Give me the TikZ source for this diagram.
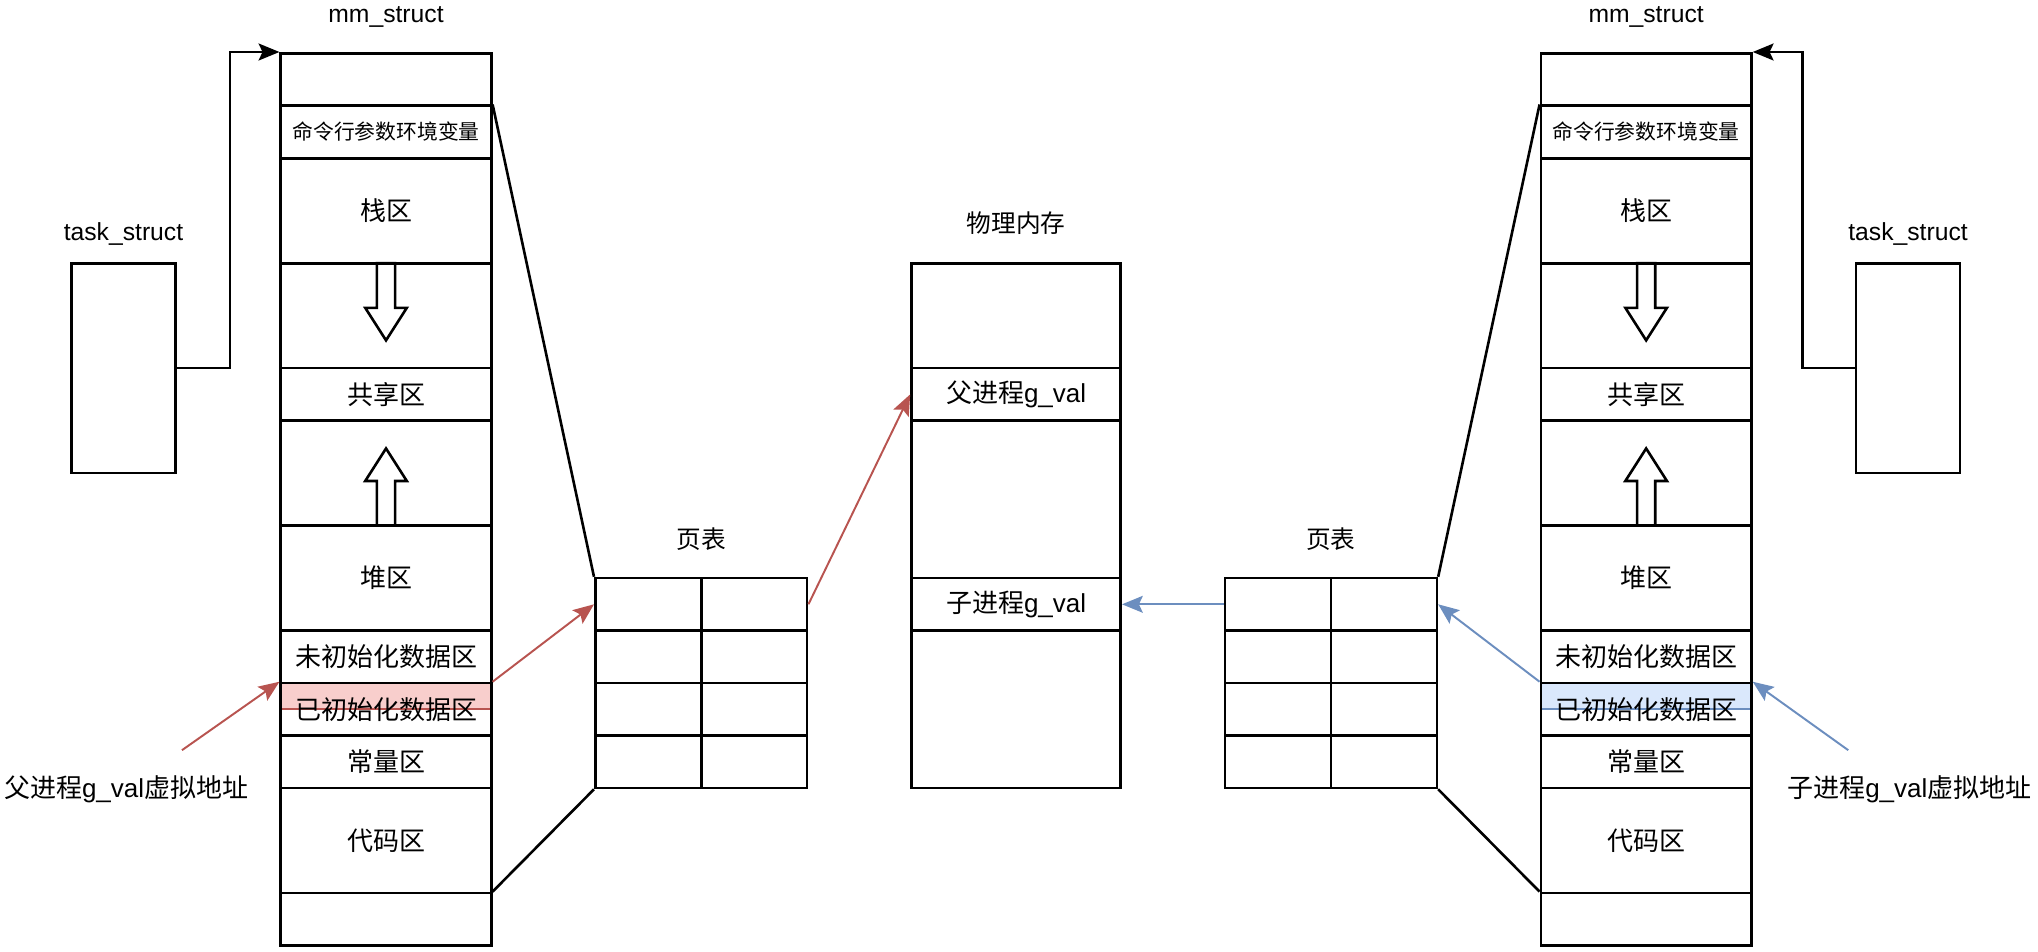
\documentclass[tikz,border=0pt]{standalone}
\usepackage{fontspec}
\setmainfont{Liberation Sans}
\newfontfamily\cjk{Noto Sans CJK SC}
\usetikzlibrary{arrows.meta}
\definecolor{redline}{HTML}{B85450}
\definecolor{redfill}{HTML}{F8CECC}
\definecolor{blueline}{HTML}{6C8EBF}
\definecolor{bluefill}{HTML}{DAE8FC}

\begin{document}
\begin{tikzpicture}[x=1pt, y=-40.375pt, line width=2pt, font=\fontsize{20}{24}\selectfont\cjk]
\useasboundingbox (0,-1.0155) rectangle (1568,17.1146);
\tikzset{seg/.style={draw, minimum width=162pt, minimum height=40.375pt, inner sep=0pt, align=center}}
\tikzset{bigseg/.style={seg, minimum height=80.75pt}}
\tikzset{cell/.style={draw, minimum width=81.5pt, minimum height=40.375pt, inner sep=0pt}}
\tikzset{lbl/.style={font=\fontsize{19}{22}\selectfont\cjk}}
\tikzset{structname/.style={font=\fontsize{19}{22}\selectfont\rmfamily}}
\tikzset{hilite/.style={minimum width=162pt, minimum height=20.19pt, inner sep=0pt, line width=1.5pt}}
\tikzset{>={Stealth[length=16pt, width=13pt, inset=3pt]}}
\node[hilite, draw=redline, fill=redfill] (hlL) at (297,12.25) {};
\node[hilite, draw=blueline, fill=bluefill] (hlR) at (1266.5,12.25) {};
\node[seg] (mmL1) at (297,0.5) {};
\node[seg, font=\fontsize{16}{19}\selectfont\cjk] (mmL2) at (297,1.5) {命令行参数环境变量};
\node[bigseg] (mmL3) at (297,3) {栈区};
\node[bigseg] (mmL4) at (297,5) {};
\node[seg] (mmL5) at (297,6.5) {共享区};
\node[bigseg] (mmL6) at (297,8) {};
\node[bigseg] (mmL7) at (297,10) {堆区};
\node[seg] (mmL8) at (297,11.5) {未初始化数据区};
\node[seg] (mmL9) at (297,12.5) {已初始化数据区};
\node[seg] (mmL10) at (297,13.5) {常量区};
\node[bigseg] (mmL11) at (297,15) {代码区};
\node[seg] (mmL12) at (297,16.5) {};
\node[seg] (mmR1) at (1266.5,0.5) {};
\node[seg, font=\fontsize{16}{19}\selectfont\cjk] (mmR2) at (1266.5,1.5) {命令行参数环境变量};
\node[bigseg] (mmR3) at (1266.5,3) {栈区};
\node[bigseg] (mmR4) at (1266.5,5) {};
\node[seg] (mmR5) at (1266.5,6.5) {共享区};
\node[bigseg] (mmR6) at (1266.5,8) {};
\node[bigseg] (mmR7) at (1266.5,10) {堆区};
\node[seg] (mmR8) at (1266.5,11.5) {未初始化数据区};
\node[seg] (mmR9) at (1266.5,12.5) {已初始化数据区};
\node[seg] (mmR10) at (1266.5,13.5) {常量区};
\node[bigseg] (mmR11) at (1266.5,15) {代码区};
\node[seg] (mmR12) at (1266.5,16.5) {};
\draw (290,4) -- (304,4) -- (304,4.85) -- (313,4.85) -- (297,5.47) -- (281,4.85) -- (290,4.85) -- cycle;
\draw (290,9) -- (304,9) -- (304,8.15) -- (313,8.15) -- (297,7.53) -- (281,8.15) -- (290,8.15) -- cycle;
\draw (1259.5,4) -- (1273.5,4) -- (1273.5,4.85) -- (1282.5,4.85) -- (1266.5,5.47) -- (1250.5,4.85) -- (1259.5,4.85) -- cycle;
\draw (1259.5,9) -- (1273.5,9) -- (1273.5,8.15) -- (1282.5,8.15) -- (1266.5,7.53) -- (1250.5,8.15) -- (1259.5,8.15) -- cycle;
\node[cell] (pL1a) at (498.75,10.5) {};
\node[cell] (pL1b) at (580.25,10.5) {};
\node[cell] (pL2a) at (498.75,11.5) {};
\node[cell] (pL2b) at (580.25,11.5) {};
\node[cell] (pL3a) at (498.75,12.5) {};
\node[cell] (pL3b) at (580.25,12.5) {};
\node[cell] (pL4a) at (498.75,13.5) {};
\node[cell] (pL4b) at (580.25,13.5) {};
\node[cell] (pR1a) at (983.25,10.5) {};
\node[cell] (pR1b) at (1064.75,10.5) {};
\node[cell] (pR2a) at (983.25,11.5) {};
\node[cell] (pR2b) at (1064.75,11.5) {};
\node[cell] (pR3a) at (983.25,12.5) {};
\node[cell] (pR3b) at (1064.75,12.5) {};
\node[cell] (pR4a) at (983.25,13.5) {};
\node[cell] (pR4b) at (1064.75,13.5) {};
\node[seg, minimum width=161pt, minimum height=80.75pt] (phy1) at (781.75,5) {};
\node[seg, minimum width=161pt] (phy2) at (781.75,6.5) {父进程{\rmfamily g\_val}};
\node[seg, minimum width=161pt, minimum height=121.125pt] (phy3) at (781.75,8.5) {};
\node[seg, minimum width=161pt] (phy4) at (781.75,10.5) {子进程{\rmfamily g\_val}};
\node[seg, minimum width=161pt, minimum height=121.125pt] (phy5) at (781.75,12.5) {};
\node[draw, minimum width=80pt, minimum height=161.5pt] (tsL) at (95,6) {};
\node[draw, minimum width=80pt, minimum height=161.5pt] (tsR) at (1468,6) {};
\node[structname] (mmLname) at (297,-0.69) {mm\_struct};
\node[structname] (mmRname) at (1266.5,-0.69) {mm\_struct};
\node[structname] (tsLname) at (95,3.44) {task\_struct};
\node[structname] (tsRname) at (1468,3.44) {task\_struct};
\node[lbl] (pLname) at (539.5,9.26) {页表};
\node[lbl] (pRname) at (1024,9.26) {页表};
\node[lbl] (phyname) at (781.75,3.24) {物理内存};
\node (vaL) at (97,14.02) {父进程{\rmfamily g\_val}虚拟地址};
\node (vaR) at (1469,14.02) {子进程{\rmfamily g\_val}虚拟地址};
\coordinate (vaLtail) at (140,13.28);
\coordinate (vaRtail) at (1422,13.28);
\draw[->] (tsL.east) -- ++(41,0) |- (mmL1.north west);
\draw[->] (tsR.west) -- ++(-40,0) |- (mmR1.north east);
\path (mmL2.north east) edge (pL1a.north west);
\path (mmL12.north east) edge (pL4a.south west);
\path (mmR2.north west) edge (pR1b.north east);
\path (mmR12.north west) edge (pR4b.south east);
\path[->, redline, line width=1.5pt] (vaLtail) edge (mmL9.north west);
\path[->, redline, line width=1.5pt] (mmL9.north east) edge (pL1a.west);
\path[->, redline, line width=1.5pt] (pL1b.east) edge (phy2.west);
\path[->, blueline, line width=1.5pt] (pR1a.west) edge (phy4.east);
\path[->, blueline, line width=1.5pt] (mmR9.north west) edge (pR1b.east);
\path[->, blueline, line width=1.5pt] (vaRtail) edge (mmR9.north east);
\end{tikzpicture}
\end{document}
